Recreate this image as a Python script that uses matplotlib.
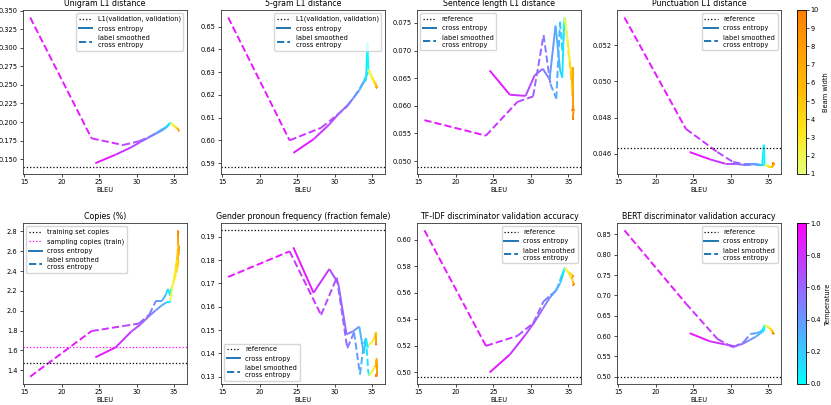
import numpy as np
import matplotlib
matplotlib.use("Agg")
import matplotlib.pyplot as plt
from matplotlib.collections import LineCollection
from matplotlib.lines import Line2D
from matplotlib.ticker import MultipleLocator, FormatStrFormatter
from matplotlib.colors import Normalize
from matplotlib.cm import ScalarMappable

# sweep settings
temps = [1.0, 0.9, 0.8, 0.7, 0.6, 0.5, 0.4, 0.3, 0.2, 0.1, 0.0]
beams = [1, 2, 3, 4, 5, 6, 7, 8, 9, 10]

# BLEU for each sweep (ce = cross entropy, ls = label smoothed)
ce_temp_bleu = [24.5, 27.2, 29.3, 30.5, 31.6, 32.5, 33.3, 33.9, 34.2, 34.4, 34.5]
ce_beam_bleu = [34.5, 34.9, 35.2, 35.4, 35.5, 35.6, 35.6, 35.6, 35.6, 35.5]
ls_temp_bleu = [15.8, 24.0, 28.2, 30.3, 31.7, 32.6, 33.4, 33.9, 34.2, 34.5, 34.6]
ls_beam_bleu = [34.6, 35.0, 35.3, 35.5, 35.6, 35.6, 35.7, 35.7, 35.6, 35.6]

# Unigram L1 distance
uni_ce_temp = [0.1445, 0.156, 0.166, 0.173, 0.179, 0.184, 0.188, 0.192, 0.195, 0.197, 0.198]
uni_ce_beam = [0.198, 0.196, 0.193, 0.192, 0.191, 0.190, 0.190, 0.189, 0.189, 0.189]
uni_ls_temp = [0.341, 0.178, 0.169, 0.174, 0.180, 0.185, 0.190, 0.193, 0.196, 0.199, 0.199]
uni_ls_beam = [0.199, 0.195, 0.192, 0.191, 0.190, 0.189, 0.189, 0.188, 0.188, 0.188]
uni_ref = 0.140

# 5-gram L1 distance
five_ce_temp = [0.5945, 0.6005, 0.607, 0.6115, 0.615, 0.6185, 0.622, 0.6255, 0.6265, 0.643, 0.631]
five_ce_beam = [0.631, 0.628, 0.626, 0.625, 0.624, 0.6235, 0.623, 0.623, 0.623, 0.623]
five_ls_temp = [0.654, 0.600, 0.6055, 0.611, 0.615, 0.619, 0.623, 0.626, 0.628, 0.630, 0.631]
five_ls_beam = [0.631, 0.628, 0.626, 0.625, 0.624, 0.624, 0.6235, 0.623, 0.623, 0.623]
five_ref = 0.5885

# Sentence length L1 distance
sent_ce_temp = [0.0664, 0.0620, 0.0618, 0.0655, 0.0667, 0.0648, 0.0745, 0.0665, 0.0651, 0.0740, 0.0760]
sent_ce_beam = [0.0760, 0.0720, 0.0680, 0.0660, 0.0640, 0.0670, 0.0625, 0.0600, 0.0595, 0.0590]
sent_ls_temp = [0.0574, 0.0546, 0.0607, 0.0617, 0.0728, 0.0640, 0.0613, 0.0752, 0.0700, 0.0745, 0.0757]
sent_ls_beam = [0.0757, 0.0700, 0.0660, 0.0630, 0.0610, 0.0600, 0.0595, 0.0590, 0.0580, 0.0575]
sent_ref = 0.0490

# Punctuation L1 distance
punc_ce_temp = [0.0461, 0.0457, 0.04545, 0.04545, 0.0454, 0.0454, 0.04545, 0.0454, 0.0454, 0.0465, 0.0454]
punc_ce_beam = [0.0454, 0.04535, 0.0453, 0.0453, 0.0453, 0.04535, 0.0454, 0.04545, 0.0455, 0.0455]
punc_ls_temp = [0.05353, 0.04738, 0.0461, 0.04555, 0.04545, 0.04545, 0.0454, 0.0454, 0.0454, 0.0454, 0.0454]
punc_ls_beam = [0.0454, 0.0453, 0.0453, 0.0453, 0.0453, 0.0454, 0.0454, 0.0455, 0.0455, 0.0455]
punc_ref = 0.04635

# Copies (%)
copy_ce_temp = [1.53, 1.63, 1.79, 1.86, 1.94, 2.00, 2.05, 2.08, 2.09, 2.08, 2.10]
copy_ce_beam = [2.10, 2.28, 2.42, 2.52, 2.60, 2.66, 2.70, 2.74, 2.78, 2.81]
copy_ls_temp = [1.335, 1.795, 1.845, 1.87, 1.96, 2.10, 2.10, 2.16, 2.22, 2.15, 2.22]
copy_ls_beam = [2.22, 2.30, 2.38, 2.45, 2.51, 2.56, 2.60, 2.63, 2.66, 2.68]
copy_train_ref = 1.472
copy_sample_ref = 1.633

# Gender pronoun frequency
gen_ce_temp = [0.1855, 0.1660, 0.1762, 0.1700, 0.1482, 0.1495, 0.1515, 0.1400, 0.1465, 0.1425, 0.1435]
gen_ce_beam = [0.1435, 0.1445, 0.1460, 0.1475, 0.1490, 0.1480, 0.1460, 0.1445, 0.1435, 0.1440]
gen_ls_temp = [0.1728, 0.1838, 0.1565, 0.1725, 0.1422, 0.1490, 0.1310, 0.1440, 0.1465, 0.1320, 0.1305]
gen_ls_beam = [0.1305, 0.1320, 0.1340, 0.1350, 0.1340, 0.1380, 0.1350, 0.1320, 0.1300, 0.1310]
gen_ref = 0.1928

# TF-IDF discriminator
tfidf_ce_temp = [0.500, 0.5135, 0.5285, 0.538, 0.548, 0.556, 0.5615, 0.567, 0.572, 0.576, 0.578]
tfidf_ce_beam = [0.578, 0.576, 0.575, 0.574, 0.5735, 0.573, 0.5725, 0.572, 0.5715, 0.571]
tfidf_ls_temp = [0.607, 0.520, 0.5275, 0.537, 0.5535, 0.558, 0.5615, 0.5695, 0.574, 0.578, 0.579]
tfidf_ls_beam = [0.579, 0.575, 0.572, 0.570, 0.569, 0.568, 0.567, 0.566, 0.5655, 0.565]
tfidf_ref = 0.4968

# BERT discriminator
bert_ce_temp = [0.607, 0.587, 0.579, 0.575, 0.581, 0.590, 0.598, 0.606, 0.610, 0.612, 0.626]
bert_ce_beam = [0.626, 0.623, 0.619, 0.615, 0.612, 0.610, 0.608, 0.607, 0.607, 0.608]
bert_ls_temp = [0.860, 0.680, 0.593, 0.572, 0.585, 0.605, 0.607, 0.610, 0.615, 0.625, 0.626]
bert_ls_beam = [0.626, 0.622, 0.618, 0.614, 0.611, 0.609, 0.607, 0.606, 0.606, 0.607]
bert_ref = 0.500

FS = 4.8
LW = 1.4
temp_cmap = plt.get_cmap("cool")
beam_cmap = plt.get_cmap("Wistia")
temp_norm = Normalize(0, 1)
beam_norm = Normalize(1, 10)


def colored_line(ax, x, y, vals, cmap, norm, ls):
    pts = np.column_stack([x, y])
    segs = np.stack([pts[:-1], pts[1:]], axis=1)
    v = np.asarray(vals, dtype=float)
    lc = LineCollection(segs, cmap=cmap, norm=norm, linestyles=ls, linewidths=LW)
    # colour each piece by the sweep value it ends on
    lc.set_array(v[1:])
    ax.add_collection(lc)


def panel(ax, title, ce_t, ce_b, ls_t, ls_b, refs, step, fmt, loc):
    colored_line(ax, ls_temp_bleu, ls_t, temps, temp_cmap, temp_norm, "--")
    colored_line(ax, ls_beam_bleu, ls_b, beams, beam_cmap, beam_norm, "--")
    colored_line(ax, ce_temp_bleu, ce_t, temps, temp_cmap, temp_norm, "-")
    colored_line(ax, ce_beam_bleu, ce_b, beams, beam_cmap, beam_norm, "-")
    handles = []
    for val, col, lab in refs:
        ax.axhline(val, color=col, ls=":", lw=0.9)
        handles.append(Line2D([], [], color=col, ls=":", lw=0.9, label=lab))
    ax.autoscale_view()
    handles.append(Line2D([], [], color="#1f77b4", ls="-", lw=LW, label="cross entropy"))
    handles.append(Line2D([], [], color="#1f77b4", ls="--", lw=LW,
                          label="label smoothed\ncross entropy"))
    ax.legend(handles=handles, loc=loc, fontsize=FS)
    ax.set_title(title, fontsize=5.7, pad=3)
    ax.set_xlabel("BLEU", fontsize=FS, labelpad=1.5)
    ax.xaxis.set_major_locator(MultipleLocator(5))
    ax.yaxis.set_major_locator(MultipleLocator(step))
    ax.yaxis.set_major_formatter(FormatStrFormatter(fmt))
    ax.tick_params(labelsize=FS, length=2.2, width=0.5, pad=1.5)
    for s in ax.spines.values():
        s.set_linewidth(0.6)
        s.set_color("#333333")


fig = plt.figure(figsize=(8.31, 4.05), dpi=100)
W, H = 831.0, 405.0
lefts = [22.7, 220.7, 417.0, 617.0]
rows = [(10.0, 174.0), (223.0, 384.0)]


def make_ax(r, c):
    top, bot = rows[r]
    return fig.add_axes([lefts[c] / W, 1 - bot / H, 164.0 / W, (bot - top) / H])


k = "black"
panel(make_ax(0, 0), "Unigram L1 distance", uni_ce_temp, uni_ce_beam, uni_ls_temp, uni_ls_beam,
      [(uni_ref, k, "L1(validation, validation)")], 0.025, "%.3f", "upper right")
panel(make_ax(0, 1), "5-gram L1 distance", five_ce_temp, five_ce_beam, five_ls_temp, five_ls_beam,
      [(five_ref, k, "L1(validation, validation)")], 0.01, "%.2f", "upper right")
panel(make_ax(0, 2), "Sentence length L1 distance", sent_ce_temp, sent_ce_beam, sent_ls_temp,
      sent_ls_beam, [(sent_ref, k, "reference")], 0.005, "%.3f", "upper left")
panel(make_ax(0, 3), "Punctuation L1 distance", punc_ce_temp, punc_ce_beam, punc_ls_temp,
      punc_ls_beam, [(punc_ref, k, "reference")], 0.002, "%.3f", "upper right")
panel(make_ax(1, 0), "Copies (%)", copy_ce_temp, copy_ce_beam, copy_ls_temp, copy_ls_beam,
      [(copy_train_ref, k, "training set copies"),
       (copy_sample_ref, "#ff00ff", "sampling copies (train)")], 0.2, "%.1f", "upper left")
panel(make_ax(1, 1), "Gender pronoun frequency (fraction female)", gen_ce_temp, gen_ce_beam,
      gen_ls_temp, gen_ls_beam, [(gen_ref, k, "reference")], 0.01, "%.2f", "lower left")
panel(make_ax(1, 2), "TF-IDF discriminator validation accuracy", tfidf_ce_temp, tfidf_ce_beam,
      tfidf_ls_temp, tfidf_ls_beam, [(tfidf_ref, k, "reference")], 0.02, "%.2f", "upper right")
panel(make_ax(1, 3), "BERT discriminator validation accuracy", bert_ce_temp, bert_ce_beam,
      bert_ls_temp, bert_ls_beam, [(bert_ref, k, "reference")], 0.05, "%.2f", "upper right")

# colorbars
for r, (cmap, norm, lab, ticks) in enumerate([
        (beam_cmap, beam_norm, "Beam width", beams),
        (temp_cmap, temp_norm, "Temperature", [0.0, 0.2, 0.4, 0.6, 0.8, 1.0])]):
    top, bot = rows[r]
    cax = fig.add_axes([797.0 / W, 1 - bot / H, 8.5 / W, (bot - top) / H])
    cb = fig.colorbar(ScalarMappable(norm=norm, cmap=cmap), cax=cax, ticks=ticks)
    cb.set_label(lab, fontsize=FS, labelpad=3)
    cb.ax.tick_params(labelsize=FS, length=2.2, width=0.5, pad=1.5)
    cb.outline.set_linewidth(0.6)
    if r == 1:
        cb.ax.yaxis.set_major_formatter(FormatStrFormatter("%.1f"))

fig.savefig("out.png", dpi=100)
